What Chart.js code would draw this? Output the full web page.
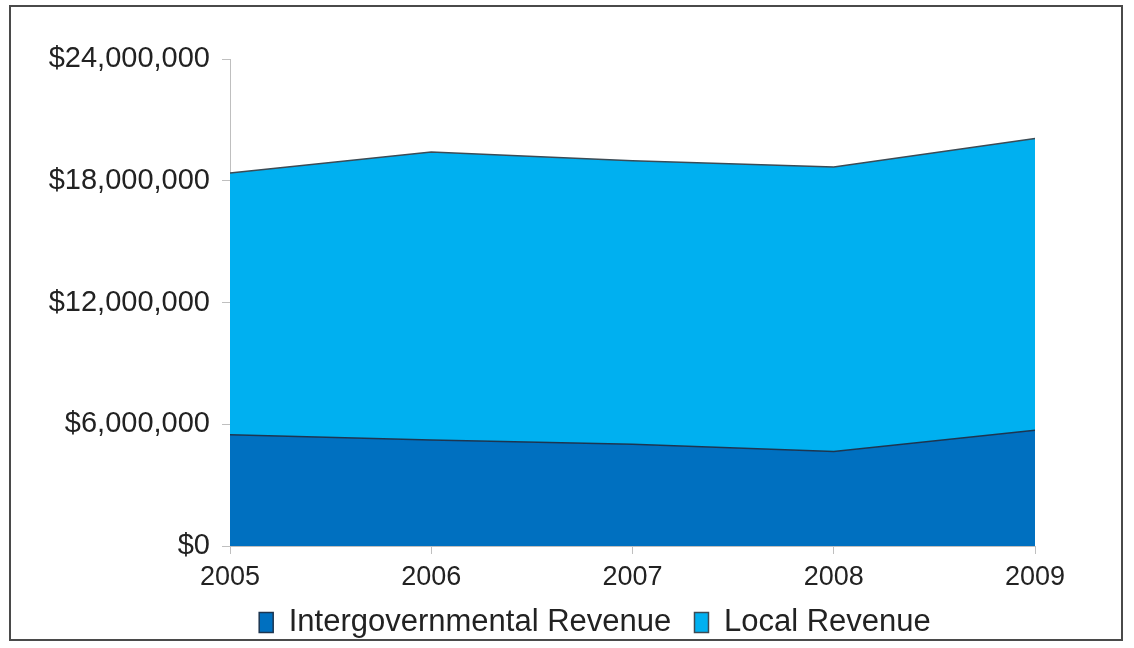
<!DOCTYPE html>
<html>
<head>
<meta charset="utf-8">
<script src="https://cdn.jsdelivr.net/npm/chart.js@4/dist/chart.umd.min.js"></script>
<style>
  html, body { margin: 0; padding: 0; background: #fff; }
  #wrap { width: 1134px; height: 648px; }
</style>
</head>
<body>
<div id="wrap"><canvas id="revenueChart" width="1134" height="648"></canvas></div>
<script>
// ----------- DATA -----------
const years = ['2005', '2006', '2007', '2008', '2009'];
const intergovRevenue = [5480000, 5220000, 5010000, 4660000, 5710000];
const localRevenue = [12900000, 14200000, 13970000, 14020000, 14370000];
const yTicks = [0, 6000000, 12000000, 18000000, 24000000];

const FONT = '"Liberation Sans", Arial, sans-serif';

// outer frame + white background
const framePlugin = {
  id: 'frame',
  beforeDraw(chart) {
    const { ctx } = chart;
    ctx.save();
    ctx.fillStyle = '#fff';
    ctx.fillRect(0, 0, chart.width, chart.height);
    ctx.strokeStyle = '#4a4a4a';
    ctx.lineWidth = 2;
    ctx.strokeRect(10, 6, 1112, 634);
    ctx.restore();
  }
};

// legend is centred under the plot, not under the whole canvas
const legendShift = {
  id: 'legendShift',
  afterLayout(chart) {
    const lg = chart.legend;
    if (!lg) return;
    const w = lg.right - lg.left;
    const center = 595;
    lg.left = center - w / 2;
    lg.right = center + w / 2;
  }
};

const ctx = document.getElementById('revenueChart');

new Chart(ctx, {
  type: 'line',
  data: {
    labels: years,
    datasets: [
      {
        label: 'Intergovernmental Revenue',
        data: intergovRevenue,
        backgroundColor: '#0070C0',
        borderColor: '#1d3550',
        borderWidth: 1.5,
        fill: 'origin',
        pointRadius: 0,
        tension: 0,
      },
      {
        label: 'Local Revenue',
        data: localRevenue,
        backgroundColor: '#00B0F0',
        borderColor: '#3c4b55',
        borderWidth: 1.5,
        fill: '-1',
        pointRadius: 0,
        tension: 0,
      },
    ],
  },
  options: {
    responsive: false,
    animation: false,
    layout: { padding: { left: 20, right: 99, top: 59, bottom: 0 } },
    plugins: {
      tooltip: { enabled: false },
      legend: {
        position: 'bottom',
        labels: {
          boxWidth: 14,
          boxHeight: 20,
          padding: 6,
          color: '#222',
          font: { family: FONT, size: 31 },
          // a little extra room between the two entries
          generateLabels(chart) {
            const items = Chart.defaults.plugins.legend.labels.generateLabels(chart);
            items.forEach((it, i) => { if (i < items.length - 1) it.text += '  '; });
            return items;
          },
        },
      },
    },
    scales: {
      x: {
        offset: false,
        grid: { drawOnChartArea: false, color: '#bfbfbf', tickLength: 8 },
        border: { color: '#bfbfbf' },
        ticks: { color: '#222', padding: 10, maxRotation: 0, font: { family: FONT, size: 27, lineHeight: 1 } },
      },
      y: {
        stacked: true,
        min: 0,
        max: 24000000,
        afterBuildTicks(scale) {
          scale.ticks = yTicks.map(v => ({ value: v }));
        },
        afterFit(scale) { scale.width = 210; },
        grid: { drawOnChartArea: false, color: '#bfbfbf', tickLength: 8 },
        border: { color: '#bfbfbf' },
        ticks: {
          color: '#222',
          padding: 12,
          font: { family: FONT, size: 29 },
          callback: v => '$' + v.toLocaleString('en-US'),
        },
      },
    },
  },
  plugins: [framePlugin, legendShift],
});
</script>
</body>
</html>
